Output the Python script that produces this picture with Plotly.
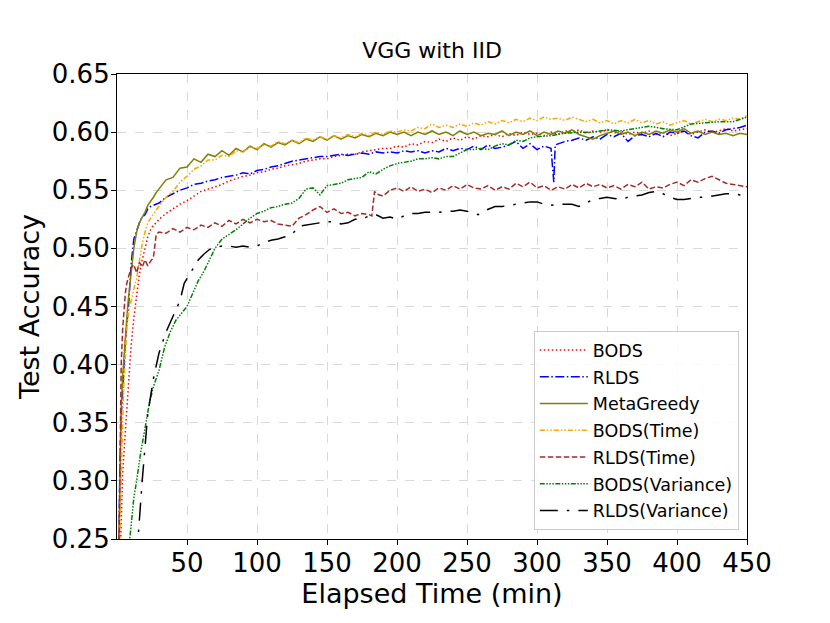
import plotly.graph_objects as go

# elapsed time (min) grid shared by the dense, noisy runs
T_EARLY = [1, 2, 3, 4, 5, 6, 7, 8, 9, 10, 12, 14, 16, 18, 20, 22, 24, 26, 28]
T_MAIN = [30, 35, 40, 45, 50, 55, 60, 65, 70, 75, 80, 85, 90, 95, 100, 105, 110,
          115, 120, 125, 130, 135, 140, 145, 150, 155, 160, 165, 170, 175, 180,
          185, 190, 195, 200, 205, 210, 215, 220, 225, 230, 235, 240, 245, 250,
          255, 260, 265, 270, 275, 280, 285, 290, 295, 300, 305, 310, 315, 320,
          325, 330, 335, 340, 345, 350, 355, 360, 365, 370, 375, 380, 385, 390,
          395, 400, 405, 410, 415, 420, 425, 430, 435, 440, 445, 450]

BODS_Y = [0.18, 0.22, 0.27, 0.305, 0.325, 0.345, 0.365, 0.385, 0.40, 0.415, 0.44, 0.46,
          0.478, 0.49, 0.50, 0.51, 0.516, 0.520, 0.522,
          0.525, 0.530, 0.534, 0.538, 0.541, 0.545, 0.549, 0.551, 0.553, 0.555, 0.558,
          0.560, 0.562, 0.563, 0.565, 0.566, 0.568, 0.569, 0.571, 0.572, 0.573, 0.575,
          0.576, 0.577, 0.577, 0.579, 0.580, 0.581, 0.581, 0.583, 0.584, 0.585, 0.586,
          0.586, 0.588, 0.587, 0.590, 0.589, 0.592, 0.591, 0.594, 0.592, 0.595, 0.593,
          0.596, 0.594, 0.597, 0.596, 0.598, 0.596, 0.599, 0.597, 0.600, 0.598, 0.599,
          0.597, 0.600, 0.598, 0.601, 0.600, 0.602, 0.599, 0.601, 0.600, 0.602, 0.599,
          0.601, 0.598, 0.600, 0.599, 0.601, 0.598, 0.600, 0.597, 0.599, 0.601, 0.598,
          0.600, 0.602, 0.600, 0.601, 0.603, 0.601, 0.602, 0.603]

# RLDS has the sharp drop near 312 min
RLDS_T = T_EARLY + T_MAIN[:57] + [312, 313] + T_MAIN[57:]
RLDS_Y = [0.21, 0.31, 0.355, 0.38, 0.40, 0.42, 0.435, 0.446, 0.465, 0.485, 0.508, 0.516,
          0.522, 0.527, 0.529, 0.534, 0.536, 0.537, 0.538,
          0.539, 0.544, 0.547, 0.550, 0.552, 0.555, 0.556, 0.558, 0.559, 0.561, 0.562,
          0.563, 0.565, 0.564, 0.567, 0.568, 0.570, 0.571, 0.573, 0.575, 0.576, 0.577,
          0.578, 0.579, 0.579, 0.580, 0.581, 0.580, 0.581, 0.582, 0.581, 0.583, 0.582,
          0.583, 0.582, 0.584, 0.583, 0.584, 0.582, 0.584, 0.583, 0.586, 0.584, 0.586,
          0.585, 0.588, 0.585, 0.589, 0.586, 0.587, 0.589, 0.592, 0.586, 0.590, 0.585,
          0.588, 0.586, 0.557, 0.589,
          0.590, 0.592, 0.593, 0.595, 0.593, 0.596, 0.594, 0.598, 0.596, 0.599, 0.592,
          0.597, 0.598, 0.596, 0.599, 0.596, 0.600, 0.599, 0.601, 0.597, 0.595, 0.600,
          0.601, 0.599, 0.602, 0.603, 0.604, 0.606]

META_Y = [0.22, 0.30, 0.36, 0.39, 0.41, 0.425, 0.44, 0.455, 0.466, 0.475, 0.50, 0.514,
          0.522, 0.527, 0.531, 0.537, 0.540, 0.544, 0.548,
          0.551, 0.559, 0.561, 0.569, 0.570, 0.577, 0.574, 0.581, 0.579, 0.584, 0.580,
          0.586, 0.583, 0.588, 0.585, 0.590, 0.587, 0.591, 0.589, 0.593, 0.590, 0.594,
          0.592, 0.596, 0.593, 0.597, 0.594, 0.597, 0.595, 0.598, 0.596, 0.599, 0.597,
          0.600, 0.598, 0.600, 0.597, 0.600, 0.598, 0.601, 0.598, 0.600, 0.597, 0.601,
          0.598, 0.600, 0.597, 0.599, 0.598, 0.601, 0.597, 0.600, 0.598, 0.601, 0.597,
          0.600, 0.598, 0.601, 0.599, 0.602, 0.598, 0.596, 0.594, 0.597, 0.599, 0.601,
          0.598, 0.600, 0.597, 0.600, 0.598, 0.601, 0.599, 0.602, 0.600, 0.603, 0.599,
          0.601, 0.598, 0.600, 0.598, 0.599, 0.597, 0.599, 0.598]

BODS_TIME_Y = [0.20, 0.26, 0.31, 0.35, 0.385, 0.41, 0.43, 0.444, 0.450, 0.455, 0.465,
               0.474, 0.490, 0.504, 0.514, 0.522, 0.526, 0.530, 0.533,
               0.536, 0.544, 0.549, 0.557, 0.562, 0.568, 0.571, 0.576, 0.576, 0.580,
               0.579, 0.584, 0.583, 0.587, 0.586, 0.589, 0.588, 0.592, 0.590, 0.593,
               0.591, 0.595, 0.593, 0.596, 0.594, 0.597, 0.595, 0.598, 0.596, 0.599,
               0.597, 0.600, 0.598, 0.601, 0.600, 0.602, 0.601, 0.604, 0.603, 0.607,
               0.604, 0.606, 0.604, 0.607, 0.605, 0.608, 0.606, 0.609, 0.607, 0.610,
               0.608, 0.611, 0.609, 0.612, 0.610, 0.613, 0.611, 0.612, 0.610, 0.613,
               0.611, 0.609, 0.611, 0.608, 0.610, 0.607, 0.610, 0.608, 0.611, 0.608,
               0.610, 0.607, 0.609, 0.606, 0.608, 0.610, 0.607, 0.609, 0.611, 0.609,
               0.611, 0.610, 0.612, 0.611, 0.614]

# RLDS(Time) steps up around 183 min
RLDS_TIME_T = T_EARLY + T_MAIN[:31] + [182, 184] + T_MAIN[31:]
RLDS_TIME_Y = [0.20, 0.33, 0.40, 0.43, 0.45, 0.462, 0.47, 0.474, 0.478, 0.483, 0.486,
               0.479, 0.488, 0.484, 0.490, 0.485, 0.489, 0.492, 0.512,
               0.514, 0.513, 0.517, 0.514, 0.518, 0.516, 0.520, 0.518, 0.522, 0.519,
               0.524, 0.521, 0.525, 0.522, 0.525, 0.523, 0.524, 0.521, 0.520, 0.519,
               0.526, 0.529, 0.533, 0.536, 0.531, 0.534, 0.530, 0.531, 0.528, 0.530,
               0.529, 0.528, 0.549,
               0.547, 0.545, 0.550, 0.552, 0.549, 0.553, 0.549, 0.551, 0.548, 0.552,
               0.550, 0.554, 0.551, 0.555, 0.552, 0.551, 0.554, 0.550, 0.553, 0.551,
               0.556, 0.553, 0.557, 0.552, 0.554, 0.550, 0.553, 0.551, 0.555, 0.552,
               0.556, 0.553, 0.555, 0.552, 0.554, 0.551, 0.555, 0.553, 0.557, 0.551,
               0.553, 0.552, 0.555, 0.557, 0.554, 0.559, 0.557, 0.560, 0.562, 0.559,
               0.556, 0.555, 0.554, 0.553]

BODS_VAR_T = [5, 9, 12, 14, 17, 20, 23, 26, 30, 34, 38, 42, 46, 50, 54, 58, 62, 66, 70,
              75, 80, 85, 90, 95, 100, 105, 110, 115, 120, 125, 130, 135, 140, 145, 150,
              155, 160, 165, 170, 175, 180, 185, 190, 195, 200, 205, 210, 215, 220, 225,
              230, 235, 240, 245, 250, 255, 260, 265, 270, 275, 280, 285, 290, 295, 300,
              310, 320, 330, 340, 350, 360, 370, 380, 390, 400, 410, 420, 430, 440, 450]
BODS_VAR_Y = [0.20, 0.25, 0.285, 0.30, 0.325, 0.345, 0.366, 0.381, 0.395, 0.415, 0.428,
              0.438, 0.444, 0.450, 0.461, 0.472, 0.480, 0.490, 0.500, 0.508, 0.512,
              0.516, 0.521, 0.526, 0.530, 0.532, 0.535, 0.536, 0.538, 0.539, 0.543,
              0.551, 0.552, 0.546, 0.554, 0.555, 0.556, 0.559, 0.560, 0.561, 0.566,
              0.564, 0.568, 0.571, 0.573, 0.574, 0.575, 0.577, 0.577, 0.578, 0.577,
              0.579, 0.579, 0.582, 0.585, 0.585, 0.586, 0.585, 0.588, 0.590, 0.589,
              0.593, 0.592, 0.595, 0.596, 0.597, 0.599, 0.600, 0.600, 0.602, 0.601,
              0.603, 0.605, 0.603, 0.602, 0.607, 0.608, 0.609, 0.609, 0.613]

RLDS_VAR_T = [10, 15, 18, 22, 26, 30, 35, 41, 45, 48, 54, 58, 62, 66, 70, 75, 80, 85, 90,
              95, 100, 105, 110, 115, 120, 125, 130, 135, 140, 145, 150, 155, 160, 165,
              170, 175, 180, 185, 190, 195, 200, 205, 210, 215, 220, 225, 230, 235, 240,
              245, 250, 255, 258, 262, 270, 275, 280, 285, 290, 295, 300, 305, 310, 315,
              320, 325, 330, 335, 340, 345, 350, 355, 360, 365, 370, 375, 380, 385, 390,
              395, 400, 405, 410, 415, 420, 425, 430, 435, 440, 445, 450]
RLDS_VAR_Y = [0.20, 0.25, 0.30, 0.358, 0.388, 0.41, 0.428, 0.444, 0.455, 0.470, 0.482,
              0.490, 0.495, 0.499, 0.501, 0.502, 0.502, 0.501, 0.502, 0.501, 0.502,
              0.505, 0.507, 0.508, 0.510, 0.512, 0.519, 0.520, 0.521, 0.522, 0.523,
              0.523, 0.521, 0.522, 0.525, 0.525, 0.528, 0.529, 0.526, 0.527, 0.525,
              0.528, 0.530, 0.530, 0.531, 0.531, 0.531, 0.532, 0.532, 0.533, 0.532,
              0.530, 0.529, 0.532, 0.536, 0.536, 0.537, 0.538, 0.539, 0.540, 0.540,
              0.538, 0.537, 0.538, 0.538, 0.538, 0.536, 0.539, 0.542, 0.543, 0.544,
              0.543, 0.542, 0.544, 0.545, 0.546, 0.548, 0.549, 0.547, 0.544, 0.542,
              0.542, 0.543, 0.544, 0.544, 0.545, 0.546, 0.547, 0.547, 0.546, 0.546]

T_DENSE = T_EARLY + T_MAIN
SERIES = [
    ("BODS", T_DENSE, BODS_Y, "red", "1.5px,2.5px"),
    ("RLDS", RLDS_T, RLDS_Y, "blue", "9px,2.5px,1.5px,2.5px"),
    ("MetaGreedy", T_DENSE, META_Y, "olive", "solid"),
    ("BODS(Time)", T_DENSE, BODS_TIME_Y, "orange", "5px,2px,1.5px,2px,1.5px,2px"),
    ("RLDS(Time)", RLDS_TIME_T, RLDS_TIME_Y, "brown", "5.5px,2.5px"),
    ("BODS(Variance)", BODS_VAR_T, BODS_VAR_Y, "green",
     "5px,1.5px,1.5px,1.5px,1.5px,1.5px,1.5px,1.5px"),
    ("RLDS(Variance)", RLDS_VAR_T, RLDS_VAR_Y, "black", "18px,9px,2.5px,9px"),
]

FONT = "DejaVu Sans"

fig = go.Figure()
for name, t, y, color, dash in SERIES:
    if len(t) != len(y):
        print(name, len(t), len(y))
    fig.add_trace(go.Scatter(x=t, y=y, mode="lines", name=name, legendgroup=name,
                             line=dict(color=color, width=1.5, dash=dash)))

axis_common = dict(
    showline=True, linecolor="black", linewidth=1.2, mirror=True,
    ticks="outside", ticklen=5, tickwidth=1.2, tickcolor="black",
    showgrid=True, gridcolor="#d9d9d9", griddash="dash", gridwidth=1,
    zeroline=False, tickfont=dict(family=FONT, size=26, color="black"),
)
fig.update_xaxes(range=[0, 450], tickvals=[50, 100, 150, 200, 250, 300, 350, 400, 450],
                 ticklabelstandoff=-4,
                 title=dict(text="Elapsed Time (min)", font=dict(family=FONT, size=27, color="black"),
                            standoff=2),
                 **axis_common)
fig.update_yaxes(range=[0.25, 0.65], dtick=0.05, tick0=0.25, tickformat=".2f",
                 ticklabelstandoff=-4,
                 title=dict(text="Test Accuracy", font=dict(family=FONT, size=27, color="black"),
                            standoff=4),
                 **axis_common)

# page body adds an 8px offset, so margins are shifted to keep the plot box in place
fig.update_layout(
    width=830, height=623,
    margin=dict(l=109, r=91, t=66, b=92),
    paper_bgcolor="white", plot_bgcolor="white",
    font=dict(family=FONT, color="black"),
    title=dict(text="VGG with IID", x=0.5, xref="paper", xanchor="center",
               y=1 - 42 / 623, yref="container", yanchor="middle",
               font=dict(family=FONT, size=22, color="black")),
    legend=dict(x=0.987, xanchor="right", y=0.019, yanchor="bottom",
                bgcolor="rgba(255,255,255,0.85)", bordercolor="#cccccc", borderwidth=1,
                font=dict(family=FONT, size=17.5, color="black"),
                tracegroupgap=1, itemwidth=48),
    showlegend=True,
)

fig.write_html("out.html")
